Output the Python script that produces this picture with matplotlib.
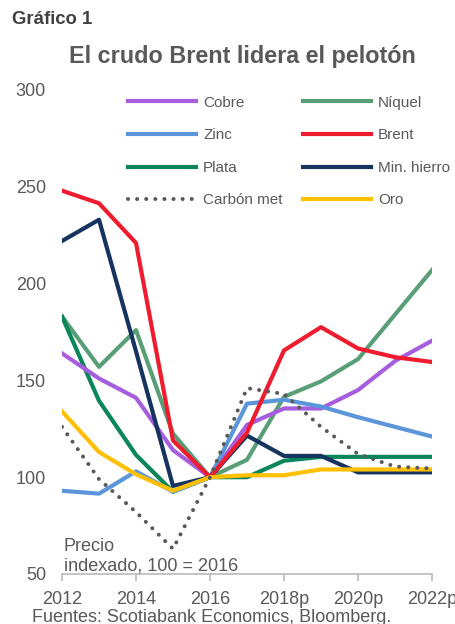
import matplotlib
matplotlib.use('Agg')
import matplotlib.pyplot as plt

plt.rcParams['font.family'] = ['Liberation Sans', 'DejaVu Sans']

years = list(range(2012, 2023))
tick_years = [2012, 2014, 2016, 2018, 2020, 2022]
tick_labels = ['2012', '2014', '2016', '2018p', '2020p', '2022p']

cobre = [164, 151, 141, 114, 100, 127, 135.5, 135.5, 145, 160, 170.5]
niquel = [183, 157, 176, 122.5, 100, 109, 141.5, 149.5, 161, 184, 207]
zinc = [93, 91.5, 103, 92.5, 100, 138, 140, 136.5, 131, 126, 121]
brent = [248, 241.5, 221, 119, 100, 123, 165.5, 177.5, 166.5, 162, 159.5]
plata = [183, 139.5, 111.5, 92.5, 100, 100, 108.5, 110.5, 110.5, 110.5, 110.5]
hierro = [222, 233, 165, 95.5, 100, 121.5, 111, 111, 102.5, 102.5, 102.5]
carbon = [126, 99, 82, 63, 100, 146, 143, 126, 112, 105.5, 104.5]
oro = [134, 113, 101.5, 93, 100, 101, 101, 104, 104, 104, 104]

GRAY = '#595959'

fig = plt.figure(figsize=(4.56, 6.24), dpi=100)
ax = fig.add_axes([62 / 456, 1 - 574 / 624, 370 / 456, 484 / 624])

lw = 3.0
series = {}
series['Níquel'] = ax.plot(years, niquel, color='#5A9E78', lw=lw)[0]
series['Plata'] = ax.plot(years, plata, color='#0B855A', lw=lw)[0]
series['Cobre'] = ax.plot(years, cobre, color='#A65EDF', lw=lw)[0]
series['Zinc'] = ax.plot(years, zinc, color='#5B96DB', lw=lw)[0]
series['Min. hierro'] = ax.plot(years, hierro, color='#17335F', lw=lw)[0]
series['Brent'] = ax.plot(years, brent, color='#EE1C2E', lw=lw)[0]
series['Oro'] = ax.plot(years, oro, color='#FFC000', lw=lw)[0]
# dotted line: round caps on near-zero dashes give dots
series['Carbón met'] = ax.plot(years, carbon, color=GRAY, lw=2.9,
                               linestyle=(0, (0.01, 2.25)),
                               dash_capstyle='round')[0]

ax.set_xlim(2012, 2022)
ax.set_ylim(50, 300)
ax.set_yticks([50, 100, 150, 200, 250, 300])
ax.set_xticks(tick_years)
ax.set_xticklabels(tick_labels)

for side in ['top', 'right', 'left']:
    ax.spines[side].set_visible(False)
ax.spines['bottom'].set_color('#BFBFBF')
ax.spines['bottom'].set_linewidth(1.3)
ax.tick_params(axis='x', direction='out', length=5, width=1.3, color='#BFBFBF',
               labelsize=13, labelcolor=GRAY, pad=7)
ax.tick_params(axis='y', length=0, labelsize=13, labelcolor=GRAY, pad=11.5)

order = ['Cobre', 'Zinc', 'Plata', 'Carbón met', 'Níquel', 'Brent', 'Min. hierro', 'Oro']
leg = ax.legend([series[k] for k in order], order, ncol=2,
                loc='upper left', bbox_to_anchor=(123 / 456, 1 - 91 / 624),
                bbox_transform=fig.transFigure, frameon=False,
                fontsize=11, handlelength=4.5, handletextpad=0.45,
                columnspacing=1.3, labelspacing=1.22, borderpad=0.3,
                borderaxespad=0)
for t in leg.get_texts():
    t.set_color(GRAY)

ax.text(2012.05, 52, 'Precio\nindexado, 100 = 2016', fontsize=13, color=GRAY,
        ha='left', va='baseline', linespacing=1.15)

fig.text(12 / 456, 1 - 20 / 624, 'Gráfico 1', fontsize=13.3, fontweight='bold',
         color='#404040', ha='left', va='center')
fig.text(242 / 456, 1 - 57 / 624, 'El crudo Brent lidera el pelotón', fontsize=16.8,
         fontweight='bold', color=GRAY, ha='center', va='center')
fig.text(32 / 456, 1 - 617 / 624, 'Fuentes: Scotiabank Economics, Bloomberg.',
         fontsize=13, color=GRAY, ha='left', va='center')

fig.savefig('out.png', dpi=100)
